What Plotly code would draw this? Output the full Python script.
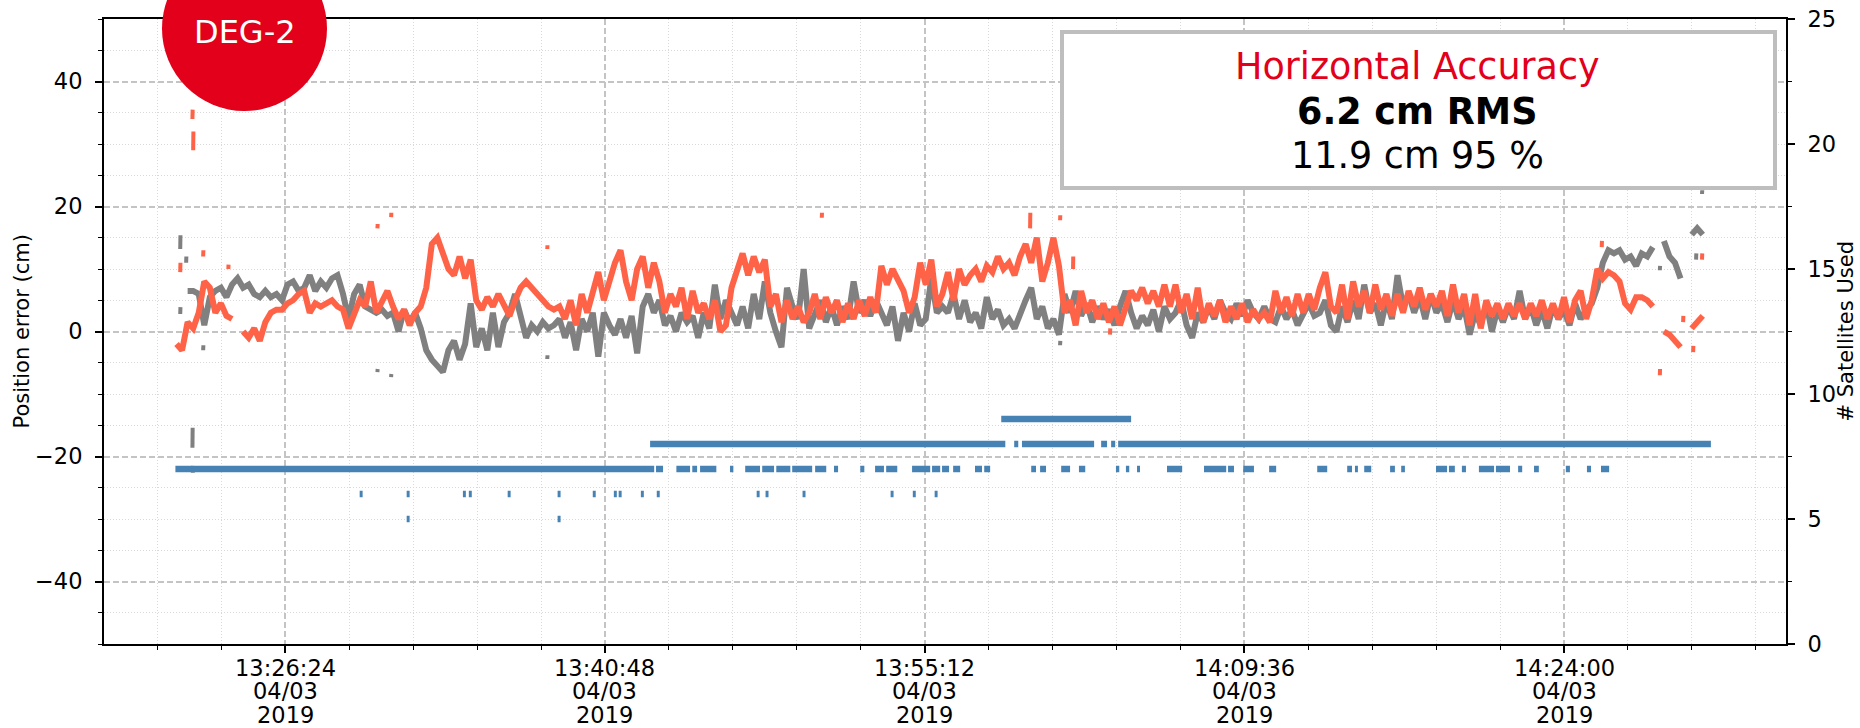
import pandas as pd
import plotly.graph_objects as go

# ---------------- data ----------------
BASE = pd.Timestamp("2019-03-04 13:26:24")   # seconds below are relative to this
T0 = -294          # first sample of the error traces (s)
STEP = 15          # sample spacing of the error traces (s)

red_cm = [
    # 13:21:30 ...
    -2, -3, 1.5, 0.5, 3, 8, 7, 3, 4.5, 2.5, 2, None, 0, -1, 0.5, -1.5, 1.5, 3, 3.5, 3.5,
    4.5, 5, 6, 6.5, 3, 4.5, 4, 4.5, 5, 4, 3.5, 0.5, 3, 5, 4, 8, 3, 5, 6.5, 4,
    2, 3.5, 1, 3, 4, 7, 14, 15, 12.5, 10, 9, 12, 8.5, 11.5, 5, 3.5, 5.5, 4, 6, 4,
    2.5, 5, 7, 8, 7, 6, 5, 4, 3.5,
    # strip 2
    4, 2, 5, 1, 6, 3, 6.5, 9.5, 5, 8, 11, 13, 8, 5, 10, 12, 7, 11, 8, 3,
    6, 4, 7, 2, 6.5, 3, 4.5, 2, 5, 0, 1, 7, 10, 12.5, 9, 12, 9.5, 11.5, 4, 6,
    1.5, 5, 2, 4, 1.5, 3, 6, 2, 5.5, 3, 5, 1.5, 4.5, 2, 5, 2.5, 5.5, 3, 10.5, 7.5,
    10, 8, 6.5, 3, 5.5, 11, 7.5, 11.5, 4, 6,
    # strip 3
    9.5, 5, 10, 7.5, 9, 10, 8, 10.5, 9.5, 12, 10, 11, 9, 12, 14, 11, 15, 8, 11, 15,
    10.5, 3, 5, 1, 6.5, 3, 5, 2, 4.5, 1.5, 4, 1, 3.5, 6.5, 5, 7, 4.5, 6.5, 4, 7.5,
    4, 7.5, 3, 6, 2, 7, 1.5, 4.5, 2.5, 5, 1.5, 4, 2, 4.5, 1.5, 3.5, 2, 3, 1.5, 6.5,
    3, 5.5, 2.5, 6, 3, 6, 3.5, 7, 9.5, 4,
    # strip 4
    3, 7.5, 2, 8, 4, 6.5, 3, 7.5, 3.5, 6, 2.5, 6, 3, 6.5, 4, 7, 3.5, 6, 4, 6.5,
    2.5, 7.5, 3, 6, 1, 6, 0.5, 5, 2.5, 4.5, 2, 4.5, 2.5, 4.5, 2, 4.5, 2.5, 5, 2, 4.5,
    2, 5.5, 1.5, 5, 6.5, 2, 5, 10, 8.5, 9.5, 9, 8, 4.5, 3.5, 5.5, 5.5, 5, 4, None, 0,
    -0.5, -1.5, -2.5, None, 0.5, 1.5, 2.5, None,
]

gray_cm = [
    None, None, 6.5, 6.5, 6, 1, 5.5, 6.5, 7, 5.5, 7.5, 8.5, 7, 7.5, 6, 5.5, 6.5, 5.5, 6, 5,
    7.5, 8, 6.5, 7, 9, 6.5, 8, 7, 8.5, 9, 6, 2, 6, 7.5, 4, 3.5, 3, 3.5, 2.5, 3,
    0, 3.5, 1.5, 3, 0.5, -3, -4.5, -5.5, -6.5, -3, -1.5, -4.5, -2, 4.5, -2.5, 0.5, -3, 3, -2.5, 1.5,
    3, 6, 2, -1, 1, 0, 1.5, 0.5, 1,
    # strip 2
    2, -1, 1.5, -3, 2, 0, 3, -4, 3, 1, -0.5, 2, -1, 2.5, -3.5, 4, 6, 3, 5, 1,
    2.5, 0, 3, 1.5, 2.5, -1, 3, 0.5, 7.5, 2, 5, 3, 1, 4, 0.5, 6, 2, 8, 3, 0,
    -2.5, 7, 4, 2, 10, 0.5, 3, 5, 1.5, 4, 1, 4, 2, 8, 3, 5, 2.5, 5, 3, 1,
    4, -1.5, 3, 0, 4.5, 1, 2, 8.5, 3, 4,
    # strip 3
    3, 6, 2, 5, 1.5, 3, 0.5, 5.5, 2, 3.5, 1, 2, 0.5, 3, 5, 7, 2, 4, 0.5, 2,
    -0.5, 6, 3, 6.5, 2.5, 4.5, 1.5, 4, 2, 3.5, 1, 4, 6.5, 3, 0.5, 2.5, 1, 3.5, 0, 4,
    2, 3, 5, 1, -1, 3, 1.5, 4, 2, 5, 3, 2, 4.5, 2.5, 5, 3, 2, 4, 2, 1.5,
    4, 2, 3.5, 1, 3, 4.5, 2.5, 3, 5, 1,
    # strip 4
    0, 4, 1.5, 5, 2, 7.5, 3, 4.5, 1, 5, 2, 9, 4, 6, 3, 5.5, 2, 6, 3, 4.5,
    1.5, 5, 2, 4, -0.5, 3, 1, 4.5, 0, 3.5, 1.5, 4, 2, 6.5, 2, 4, 1, 3.5, 0.5, 4,
    2, 3.5, 1, 4.5, 2, 3.5, 4.5, 7, 11, 13, 12.5, 13, 11.5, 12, 10.5, 12.5, 12, 13.5, None, 14.5,
    12, 11, 8.5, None, 15.5, 16.5, 15.5, None,
]

# isolated short dashes: time (s), low, high (cm)
red_out_t = [-284, -251, -249, -222, -154, 249, 286, 708, 1450, 2013, 2094, 2129, 2229, 3558, 3715, 3778, 3805, 3829]
red_out_lo = [9.5, 34, 29, 12, 10, 16.5, 18.3, 13.2, 18.2, 16.5, 17.8, 10, -0.5, 13.5, -7, 1.5, -3.3, 11.5]
red_out_hi = [11, 35.5, 32, 13, 10.7, 17.2, 19, 13.8, 19, 19, 18.6, 12, 0.5, 14.5, -6, 2.5, -2.3, 12.5]

gray_out_t = [-284, -284, -268, -251, -250, -222, 249, 286, 708, 2094, 3715, 3813, 3829]
gray_out_lo = [13.2, 2.8, 11, -18.6, -22.6, -3, -6.5, -7.3, -4.4, -2.2, 9.8, 11.5, 22]
gray_out_hi = [15.4, 3.9, 12, -15.4, -21.5, -2.2, -6, -6.8, -3.8, -1.5, 10.5, 12.5, 22.6]

# satellites used: intervals (s) per count
sat7_start = [-297, 1002, 1057, 1100, 1121, 1202, 1243, 1289, 1327, 1370, 1432, 1483, 1554, 1594, 1624, 1694,
              1748, 1775, 1805, 1864, 1889, 2016, 2040, 2097, 2145, 2245, 2272, 2302, 2383, 2483, 2548, 2589,
              2659, 2789, 2870, 2891, 2916, 2986, 3016, 3110, 3145, 3180, 3226, 3272, 3332, 3375, 3461, 3518, 3556]
sat7_end = [997, 1021, 1094, 1113, 1165, 1211, 1283, 1321, 1365, 1424, 1462, 1494, 1565, 1618, 1654, 1743,
            1770, 1794, 1824, 1883, 1905, 2029, 2056, 2121, 2162, 2254, 2281, 2310, 2424, 2543, 2564, 2618,
            2678, 2816, 2883, 2899, 2935, 2999, 3026, 3140, 3161, 3191, 3267, 3310, 3343, 3388, 3472, 3529, 3578]
sat8_start = [986, 1970, 1991, 2205, 2232, 2251]
sat8_end = [1946, 1981, 2186, 2221, 2243, 3853]
sat9_start = [1935]
sat9_end = [2286]
sat6_times = [205, 332, 484, 500, 605, 740, 835, 892, 905, 965, 1008, 1278, 1302, 1402, 1640, 1700, 1759]
sat5_times = [332, 740]

# x tick positions (s)
xtick_sec = [0, 864, 1728, 2592, 3456]

# ---------------- figure ----------------
def ts(sec):
    return BASE + pd.to_timedelta(sec, unit="s")

RED = "#FF6347"
GRAY = "#808080"
BLUE = "#4682B4"
FONT = "DejaVu Sans"
TICKFS = 22.5

fig = go.Figure()

def add_grid_series(vals, color):
    xs = [ts(T0 + STEP * i) for i in range(len(vals))]
    fig.add_trace(go.Scatter(x=xs, y=vals, mode="lines", connectgaps=False,
                             line=dict(color=color, width=6), hoverinfo="skip"))

def add_dashes(tl, lo, hi, color):
    xs, ys = [], []
    for t, a, b in zip(tl, lo, hi):
        xs += [ts(t), ts(t + 0.6), None]
        ys += [a, b, None]
    fig.add_trace(go.Scatter(x=xs, y=ys, mode="lines", line=dict(color=color, width=4),
                             hoverinfo="skip"))

add_grid_series(gray_cm, GRAY)
add_dashes(gray_out_t, gray_out_lo, gray_out_hi, GRAY)
add_grid_series(red_cm, RED)
add_dashes(red_out_t, red_out_lo, red_out_hi, RED)

sx, sy = [], []
for n, st, en in [(7, sat7_start, sat7_end), (8, sat8_start, sat8_end), (9, sat9_start, sat9_end),
                  (6, [t - 4 for t in sat6_times], [t + 4 for t in sat6_times]),
                  (5, [t - 4 for t in sat5_times], [t + 4 for t in sat5_times])]:
    for a, b in zip(st, en):
        sx += [ts(a), ts(b), None]
        sy += [n, n, None]
fig.add_trace(go.Scatter(x=sx, y=sy, yaxis="y2", mode="lines",
                         line=dict(color=BLUE, width=6.5), hoverinfo="skip"))

L, R, T, B = 104, 1786, 19, 644
W, H = R - L, B - T
def px(x):
    return (x - L) / W
def py(y):
    return (B - y) / H

major_grid = dict(showgrid=True, gridcolor="#C4C4C4", gridwidth=1.5, griddash="6px,3px")
minor_common = dict(ticks="outside", ticklen=4, tickwidth=1.2, tickcolor="black",
                    showgrid=True, gridcolor="#D9D9D9", gridwidth=1, griddash="1px,2px")

fig.update_layout(
    width=1860, height=728,
    margin=dict(l=L, r=1860 - R, t=T, b=728 - B, pad=0, autoexpand=False),
    paper_bgcolor="white", plot_bgcolor="white",
    showlegend=False,
    font=dict(family=FONT, size=TICKFS, color="black"),
    xaxis=dict(type="date", range=[ts(-490), ts(4056)], tick0=BASE, dtick=864000,
               showticklabels=False, automargin=False,
               ticks="outside", ticklen=7, tickwidth=1.5,
               tickcolor="black", showline=True, linecolor="black", linewidth=2, mirror=True,
               zeroline=False, minor=dict(dtick=172800, **minor_common), **major_grid),
    yaxis=dict(range=[-50, 50], tick0=0, dtick=20, ticks="outside", ticklen=7, tickwidth=1.5,
               tickcolor="black", showline=True, linecolor="black", linewidth=2,
               zeroline=False, ticklabelstandoff=8, automargin=False,
               tickfont=dict(size=TICKFS),
               minor=dict(dtick=5, **minor_common), **major_grid),
    yaxis2=dict(range=[0, 25], tick0=0, dtick=5, overlaying="y", side="right", ticks="outside",
                ticklen=7, tickwidth=1.5, tickcolor="black", showline=True, linecolor="black",
                linewidth=2, showgrid=False, zeroline=False, ticklabelstandoff=8, automargin=False,
                tickfont=dict(size=TICKFS),
                minor=dict(dtick=2.5, ticks="outside", ticklen=4, tickwidth=1.2, tickcolor="black")),
)

shapes = [
    dict(type="rect", xref="paper", yref="paper", x0=px(1062), x1=px(1775), y0=py(188), y1=py(32),
         line=dict(color="#BEBEBE", width=4), fillcolor="white", layer="above"),
    dict(type="circle", xref="paper", yref="paper", x0=px(162), x1=px(327), y0=py(111), y1=py(-54),
         line=dict(width=0), fillcolor="#E2001A", layer="above"),
]
fig.update_layout(shapes=shapes)

ann = [
    dict(text="Position error (cm)", x=px(21), y=0.5, textangle=-90, font=dict(size=21)),
    dict(text="# Satellites Used", x=px(1845), y=0.5, textangle=-90, font=dict(size=21)),
    dict(text="DEG-2", x=px(244.5), y=py(32.5), font=dict(size=32, color="white")),
    dict(text="Horizontal Accuracy", x=px(1417), y=py(66), font=dict(size=36.5, color="#E2001A")),
    dict(text="<b>6.2 cm RMS</b>", x=px(1417), y=py(111), font=dict(size=36.5, color="black")),
    dict(text="11.9 cm 95 %", x=px(1417), y=py(156), font=dict(size=36.5, color="black")),
]
for a in ann:
    a.update(xref="paper", yref="paper", showarrow=False, xanchor="center", yanchor="middle")
    a["font"].setdefault("family", FONT)

for s in xtick_sec:
    t = ts(s)
    for txt, ypx in [(t.strftime("%H:%M:%S"), 668), (t.strftime("%d/%m"), 691), (t.strftime("%Y"), 715)]:
        ann.append(dict(text=txt, x=t, xref="x", y=py(ypx), yref="paper", showarrow=False,
                        xanchor="center", yanchor="middle", font=dict(size=TICKFS, family=FONT)))
fig.update_layout(annotations=ann)

fig.write_html("out.html")
